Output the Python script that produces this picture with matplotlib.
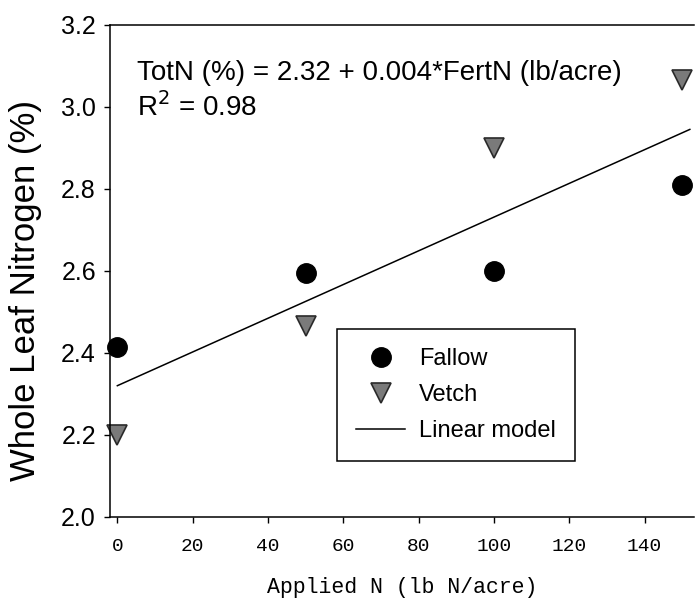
import matplotlib
matplotlib.use('Agg')
import matplotlib.pyplot as plt
from matplotlib.lines import Line2D

# data
rates = [0, 50, 100, 150]
fallow = [2.415, 2.595, 2.60, 2.81]
vetch = [2.20, 2.465, 2.90, 3.065]
model_x = [0, 152]
model_y = [2.32, 2.945]

fig = plt.figure(figsize=(6.95, 6.06), dpi=100)
ax = fig.add_axes([0.158, 0.147, 0.84, 0.812])

sans = 'Liberation Sans'
mono = 'Liberation Mono'
vfill = '#7a7a7a'
vedge = '#2a2a2a'

ax.plot(model_x, model_y, color='black', lw=1.1, label='Linear model')
ax.plot(rates, fallow, 'o', color='black', ms=14, label='Fallow', clip_on=False)
ax.plot(rates, vetch, 'v', ms=14, markerfacecolor=vfill,
        markeredgecolor=vedge, markeredgewidth=1.2, label='Vetch', clip_on=False)

ax.set_xlim(-2, 153)
ax.set_ylim(2.0, 3.2)
ax.set_xticks(range(0, 141, 20))
ax.set_yticks([2.0, 2.2, 2.4, 2.6, 2.8, 3.0, 3.2])
ax.set_yticklabels(['2.0', '2.2', '2.4', '2.6', '2.8', '3.0', '3.2'],
                   fontsize=18, fontfamily=sans)
ax.set_xticklabels([str(v) for v in range(0, 141, 20)], fontsize=14, fontfamily=mono)
ax.tick_params(axis='x', length=4, width=1, pad=11)
ax.tick_params(axis='y', length=4, width=1, pad=6)
ax.spines['right'].set_visible(False)
for s in ['left', 'top', 'bottom']:
    ax.spines[s].set_linewidth(1.1)

ax.set_xlabel('Applied N (lb N/acre)', fontsize=15.5, fontfamily=mono, labelpad=16)
ax.set_ylabel('Whole Leaf Nitrogen (%)', fontsize=25, fontfamily=sans)
ax.yaxis.set_label_coords(-0.116, 0.46)

ax.text(0.046, 0.903, 'TotN (%) = 2.32 + 0.004*FertN (lb/acre)',
        transform=ax.transAxes, fontsize=20, fontfamily=sans, va='center')
ax.text(0.046, 0.832, 'R$^2$ = 0.98',
        transform=ax.transAxes, fontsize=20, fontfamily=sans, va='center')

handles = [
    Line2D([], [], marker='o', color='black', ls='none', ms=14),
    Line2D([], [], marker='v', ls='none', ms=14, markerfacecolor=vfill,
           markeredgecolor=vedge, markeredgewidth=1.2),
    Line2D([], [], color='black', lw=1.1),
]
leg = ax.legend(handles, ['Fallow', 'Vetch', 'Linear model'],
                loc='upper left', bbox_to_anchor=(0.39, 0.382), borderaxespad=0,
                prop={'family': sans, 'size': 17}, frameon=True, fancybox=False,
                edgecolor='black', framealpha=1, handlelength=2.05,
                labelspacing=0.6, borderpad=0.8, handletextpad=0.6)
leg.get_frame().set_linewidth(1.1)

fig.savefig('out.png', dpi=100)
